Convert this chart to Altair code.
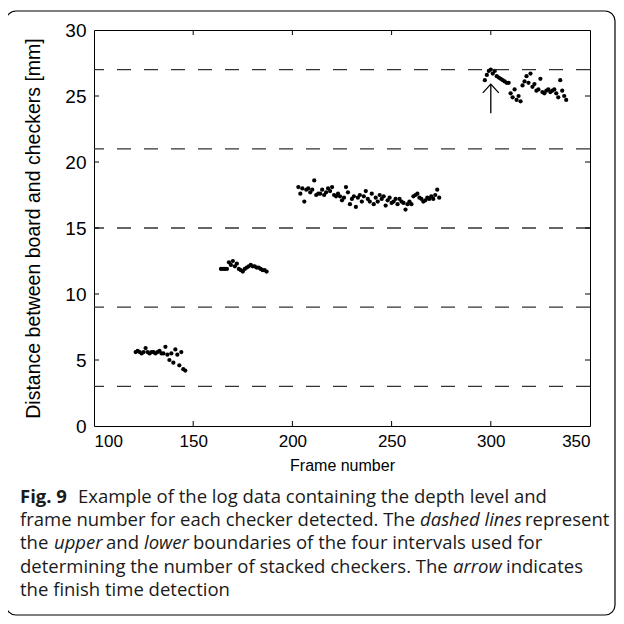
import altair as alt
import pandas as pd

# ---------------- data ----------------
c1_frame = [121,122,123,124,125,126,127,128,129,130,131,132,133,134,135,136,137,138,139,140,141,142,143,144,145,146]
c1_depth = [5.6,5.7,5.6,5.5,5.6,5.9,5.6,5.5,5.6,5.6,5.5,5.6,5.7,5.5,5.5,6.0,5.4,5.0,5.5,4.8,5.8,5.4,4.6,5.6,4.3,4.2]

c2_frame = [164,165,166,167,168,169,170,171,172,173,174,175,176,177,178,179,180,181,182,183,184,185,186,187]
c2_depth = [11.9,11.9,11.9,11.9,12.4,12.2,12.5,12.1,12.3,11.9,11.8,11.7,11.9,12.0,12.1,12.2,12.1,12.1,12.0,12.0,11.9,11.8,11.8,11.7]

c3_frame = list(range(203, 275))
c3_depth = [18.1,17.6,18.0,17.0,17.9,18.0,17.7,17.9,18.6,17.5,17.6,17.6,17.9,17.5,17.7,18.0,17.8,18.1,
            17.5,17.4,17.6,17.4,17.1,17.3,18.1,17.7,16.8,17.2,17.4,16.6,17.3,17.5,17.0,17.4,17.8,17.2,
            17.0,17.6,16.8,17.3,17.0,17.5,17.2,17.4,16.7,17.1,17.3,16.9,17.0,17.2,16.8,17.2,17.0,16.9,
            16.4,16.8,17.0,16.8,17.4,17.5,17.6,17.3,17.2,17.0,17.1,17.3,17.2,17.4,17.2,17.5,17.9,17.3]

c4_frame = list(range(297, 339))
c4_depth = [26.2,26.6,26.9,27.0,26.7,26.9,26.5,26.4,26.3,26.2,26.1,26.0,26.0,25.2,24.9,25.5,24.7,25.0,
            24.6,25.8,26.1,26.5,26.0,26.7,25.7,25.9,25.4,25.5,26.3,25.3,25.2,25.4,25.5,25.3,25.4,25.5,
            25.2,24.9,26.2,25.4,25.0,24.7]

boundaries = [3, 9, 15, 21, 27]
x_ticks = [100, 150, 200, 250, 300, 350]
y_ticks = [0, 5, 10, 15, 20, 25, 30]
arrow_frame = [300]
arrow_from = [23.7]
arrow_to = [25.9]

x_title = "Frame number"
y_title = "Distance between board and checkers [mm]"

caption_segments = [
    # (text, line, x position, weight, style)
    ("Fig. 9", 0, 20, "bold", "normal"),
    ("Example of the log data containing the depth level and", 0, 78, "normal", "normal"),
    ("frame number for each checker detected. The", 1, 20, "normal", "normal"),
    ("dashed lines", 1, 420, "normal", "italic"),
    ("represent", 1, 525, "normal", "normal"),
    ("the", 2, 20, "normal", "normal"),
    ("upper", 2, 54, "normal", "italic"),
    ("and", 2, 106, "normal", "normal"),
    ("lower", 2, 144, "normal", "italic"),
    ("boundaries of the four intervals used for", 2, 193, "normal", "normal"),
    ("determining the number of stacked checkers. The", 3, 20, "normal", "normal"),
    ("arrow", 3, 453, "normal", "italic"),
    ("indicates", 3, 506, "normal", "normal"),
    ("the finish time detection", 4, 20, "normal", "normal"),
]

# ---------------- layout constants ----------------
W, H = 496, 396
PL, PT = 86, 22
FONT = "Liberation Sans"
CAP_FONT = "Open Sans"

pts = pd.DataFrame({
    "frame": c1_frame + c2_frame + c3_frame + c4_frame,
    "depth": c1_depth + c2_depth + c3_depth + c4_depth,
})

xs = alt.Scale(domain=[100, 350], nice=False, zero=False)
ys = alt.Scale(domain=[0, 30], nice=False, zero=False)
xax = alt.Axis(
    values=x_ticks, title=x_title, grid=False, ticks=False, domain=False,
    labelFont=FONT, labelFontSize=17, labelColor="black", labelPadding=7,
    titleFont=FONT, titleFontSize=16, titleFontWeight="normal", titleColor="black", titlePadding=8)
yax = alt.Axis(
    values=y_ticks, title=y_title, grid=False, ticks=False, domain=False,
    labelFont=FONT, labelFontSize=19, labelColor="black", labelPadding=8,
    titleFont=FONT, titleFontSize=19.5, titleFontWeight="normal", titleColor="black", titlePadding=21)

def X(f):
    return alt.X(f, scale=xs, axis=xax, title=x_title)

def Y(f):
    return alt.Y(f, scale=ys, axis=yax, title=y_title)

points = alt.Chart(pts).mark_circle(size=18, color="black", opacity=1).encode(
    x=X("frame:Q"), y=Y("depth:Q"))

dashes = alt.Chart(pd.DataFrame({"b": boundaries})).mark_rule(
    color="#333333", strokeWidth=1.3, strokeDash=[14, 13]
).encode(y=Y("b:Q"))

xt = pd.DataFrame({"v": x_ticks[1:-1]})
yt = pd.DataFrame({"v": y_ticks[1:-1]})
tick_b = alt.Chart(xt).mark_rule(color="black").encode(
    x=X("v:Q"), y=alt.value(H), y2=alt.value(H - 5))
tick_t = alt.Chart(xt).mark_rule(color="black").encode(
    x=X("v:Q"), y=alt.value(0), y2=alt.value(5))
tick_l = alt.Chart(yt).mark_rule(color="black").encode(
    y=Y("v:Q"), x=alt.value(0), x2=alt.value(5))
tick_r = alt.Chart(yt).mark_rule(color="black").encode(
    y=Y("v:Q"), x=alt.value(W), x2=alt.value(W - 5))

arr = pd.DataFrame({"f": arrow_frame, "a": arrow_from, "b": arrow_to})
arrow_line = alt.Chart(arr).mark_rule(color="black", strokeWidth=1.3).encode(
    x=X("f:Q"), y=Y("a:Q"), y2="b:Q")
arrow_head = alt.Chart(arr).mark_point(
    shape="M-1,1.1L0,0L1,1.1", size=256, filled=False, color="black", strokeWidth=1.3, opacity=1
).encode(x=X("f:Q"), y=Y("b:Q"))

border = alt.Chart(pd.DataFrame({"k": [0]})).mark_rect(
    fill=None, stroke="black", strokeWidth=1.2, cornerRadius=10
).encode(x=alt.value(6 - 8 - PL), x2=alt.value(615 - 8 - PL),
         y=alt.value(11 - 8 - PT), y2=alt.value(615 - 8 - PT))

line_y = [497, 520, 543, 567, 590]
cap_layers = []
for text, line, px, weight, style in caption_segments:
    cap_layers.append(
        alt.Chart(pd.DataFrame({"t": [text]})).mark_text(
            align="left", baseline="middle", font=CAP_FONT, fontSize=18.5,
            fontWeight=weight, fontStyle=style, color="#1a1a1a"
        ).encode(text="t:N", x=alt.value(px - 8 - PL), y=alt.value(line_y[line] - 8 - PT))
    )

chart = alt.layer(
    points, dashes, tick_b, tick_t, tick_l, tick_r, arrow_line, arrow_head, border, *cap_layers
).properties(
    width=W, height=H,
    autosize=alt.AutoSizeParams(type="none"),
    padding={"left": PL, "top": PT, "right": 608 - PL - W, "bottom": 608 - PT - H},
).configure_view(stroke="black", strokeWidth=1)

chart.save("out.html", embed_options={"renderer": "svg", "actions": False})
